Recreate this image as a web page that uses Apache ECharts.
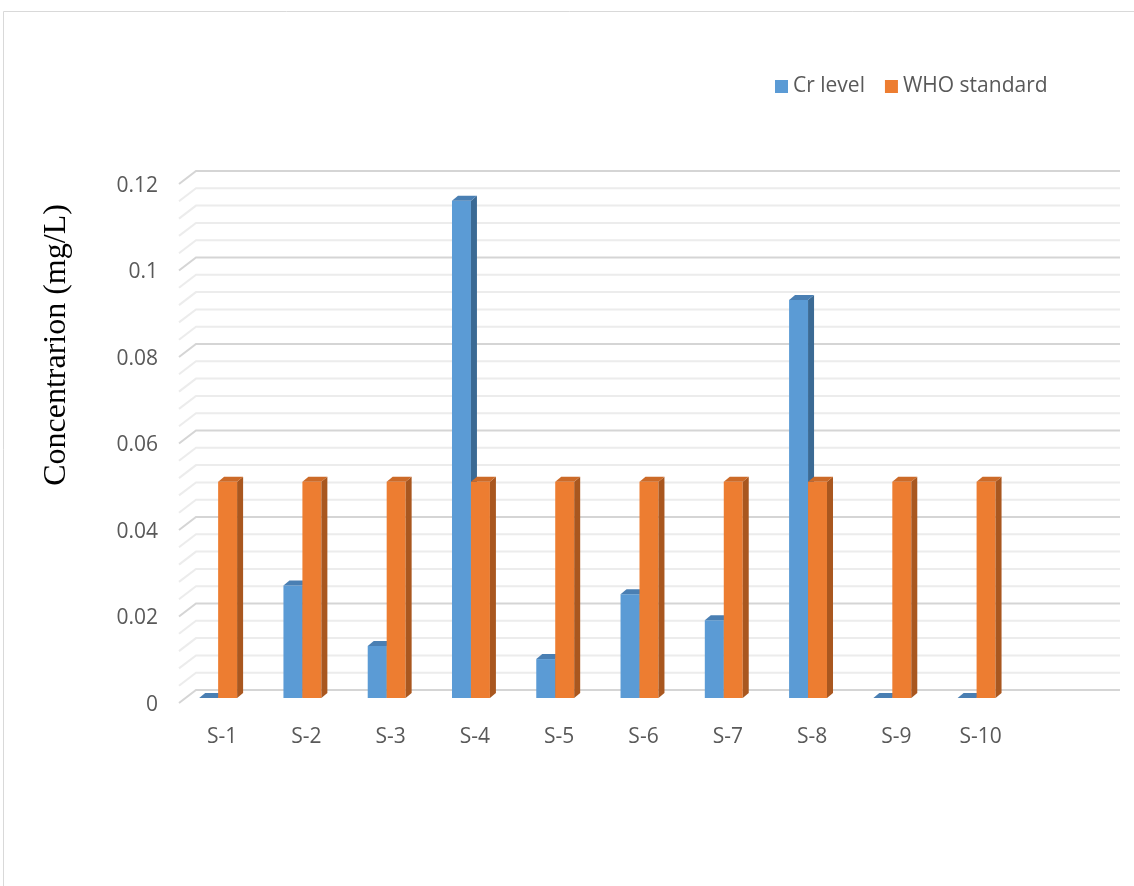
<!DOCTYPE html>
<html>
<head>
<meta charset="utf-8">
<style>
  html, body { margin: 0; padding: 0; background: #ffffff; }
  #chart { width: 1134px; height: 886px; }
</style>
<script src="https://cdn.jsdelivr.net/npm/echarts@6/dist/echarts.min.js"></script>
</head>
<body>
<div id="chart"></div>
<script>
// Sampling sites (last slot is an empty category that leaves room on the right)
const categories = ['S-1', 'S-2', 'S-3', 'S-4', 'S-5', 'S-6', 'S-7', 'S-8', 'S-9', 'S-10', ''];
// Measured chromium concentration, mg/L
const crLevel = [0, 0.026, 0.012, 0.115, 0.009, 0.024, 0.018, 0.092, 0, 0];
// WHO guideline value, mg/L
const whoStandard = [0.05, 0.05, 0.05, 0.05, 0.05, 0.05, 0.05, 0.05, 0.05, 0.05];
// Value axis ticks and their labels
const yTickValues = [0, 0.02, 0.04, 0.06, 0.08, 0.1, 0.12];
const yTickLabels = ['0', '0.02', '0.04', '0.06', '0.08', '0.1', '0.12'];
const yMin = 0, yMax = 0.12, yMajorStep = 0.02, yMinorStep = 0.004;

const FONT = '"Open Sans", "Liberation Sans", sans-serif';
const TEXT_COLOR = '#595959';

// Minor + major gridline values along the value axis
const gridValues = [];
for (let k = 0; k <= Math.round((yMax - yMin) / yMinorStep); k++) {
  gridValues.push([0, +(yMin + k * yMinorStep).toFixed(4)]);
}

// Pseudo-3D column: front face, right side face and top face
function columnRenderer(slot, faces) {
  return function (params, api) {
    const i = api.value(0), v = api.value(1);
    const base = api.coord([i, 0]);
    const top = api.coord([i, v]);
    const band = api.size([1, 0])[0];
    const w = band * 0.225;
    const dx = 6, dy = -5;
    const x = base[0] - w + slot * w;
    const y0 = base[1], y1 = top[1];
    const children = [];
    if (y0 - y1 > 0.5) {
      children.push({
        type: 'rect',
        shape: { x: x, y: y1, width: w, height: y0 - y1 },
        style: { fill: faces.front }
      });
      children.push({
        type: 'polygon',
        shape: { points: [[x + w, y1], [x + w + dx, y1 + dy], [x + w + dx, y0 + dy], [x + w, y0]] },
        style: { fill: faces.side }
      });
    }
    children.push({
      type: 'polygon',
      shape: { points: [[x, y1], [x + dx, y1 + dy], [x + w + dx, y1 + dy], [x + w, y1]] },
      style: { fill: faces.top }
    });
    return { type: 'group', children: children };
  };
}

// Gridlines: short slanted segment at the left wall, then a horizontal back line
function gridlineRenderer(params, api) {
  const v = api.value(1);
  const y = api.coord([0, v])[1];
  const cs = params.coordSys;
  const ratio = v / yMajorStep;
  const major = Math.abs(ratio - Math.round(ratio)) < 1e-6;
  return {
    type: 'polyline',
    shape: { points: [[cs.x + 3, y + 5], [cs.x + 20, y - 8], [cs.x + cs.width + 17, y - 8]] },
    style: { stroke: major ? '#d5d5d5' : '#ececec', lineWidth: 2, fill: null }
  };
}

// Value labels placed at the front edge of each major gridline
function tickLabelRenderer(params, api) {
  const idx = params.dataIndex;
  const y = api.coord([0, api.value(1)])[1];
  const cs = params.coordSys;
  return {
    type: 'text',
    x: cs.x - 18,
    y: y + 7,
    style: {
      text: yTickLabels[idx],
      font: '21px ' + FONT,
      fill: TEXT_COLOR,
      align: 'right',
      verticalAlign: 'middle'
    }
  };
}

const chart = echarts.init(document.getElementById('chart'), null, { renderer: 'canvas' });

chart.setOption({
  animation: false,
  backgroundColor: '#ffffff',
  graphic: [
    {
      type: 'rect',
      shape: { x: 3.5, y: 11.5, width: 1200, height: 1000 },
      style: { fill: null, stroke: '#d9d9d9', lineWidth: 1 },
      silent: true
    },
    {
      type: 'text',
      x: 57,
      y: 345,
      rotation: Math.PI / 2,
      style: {
        text: 'Concentrarion (mg/L)',
        font: '32px "Liberation Serif", "Times New Roman", serif',
        fill: '#000000',
        align: 'center',
        verticalAlign: 'middle'
      }
    }
  ],
  legend: {
    data: ['Cr level', 'WHO standard'],
    left: 775,
    top: 76,
    padding: 0,
    icon: 'rect',
    itemWidth: 13,
    itemHeight: 13,
    itemGap: 20,
    textStyle: { fontFamily: FONT, fontSize: 21, color: TEXT_COLOR }
  },
  grid: {
    left: 176,
    top: 179,
    width: 927,
    height: 519,
    containLabel: false
  },
  xAxis: {
    type: 'category',
    data: categories,
    axisLine: { show: false },
    axisTick: { show: false },
    splitLine: { show: false },
    axisLabel: {
      fontFamily: FONT,
      fontSize: 21,
      color: TEXT_COLOR,
      margin: 29,
      padding: [0, 0, 0, 8]
    }
  },
  yAxis: {
    type: 'value',
    min: yMin,
    max: yMax,
    interval: yMajorStep,
    axisLine: { show: false },
    axisTick: { show: false },
    splitLine: { show: false },
    axisLabel: { show: false }
  },
  series: [
    {
      name: 'gridlines',
      type: 'custom',
      silent: true,
      z: 1,
      renderItem: gridlineRenderer,
      data: gridValues
    },
    {
      name: 'tick labels',
      type: 'custom',
      silent: true,
      z: 1,
      renderItem: tickLabelRenderer,
      data: yTickValues.map(v => [0, v])
    },
    {
      name: 'Cr level',
      type: 'custom',
      z: 2,
      itemStyle: { color: '#5b9bd5' },
      renderItem: columnRenderer(0, { front: '#5b9bd5', side: '#3b6a94', top: '#4a7fb3' }),
      data: crLevel.map((v, i) => [i, v])
    },
    {
      name: 'WHO standard',
      type: 'custom',
      z: 3,
      itemStyle: { color: '#ed7d31' },
      renderItem: columnRenderer(1, { front: '#ed7d31', side: '#a9571f', top: '#cc6a28' }),
      data: whoStandard.map((v, i) => [i, v])
    }
  ]
});
</script>
</body>
</html>
